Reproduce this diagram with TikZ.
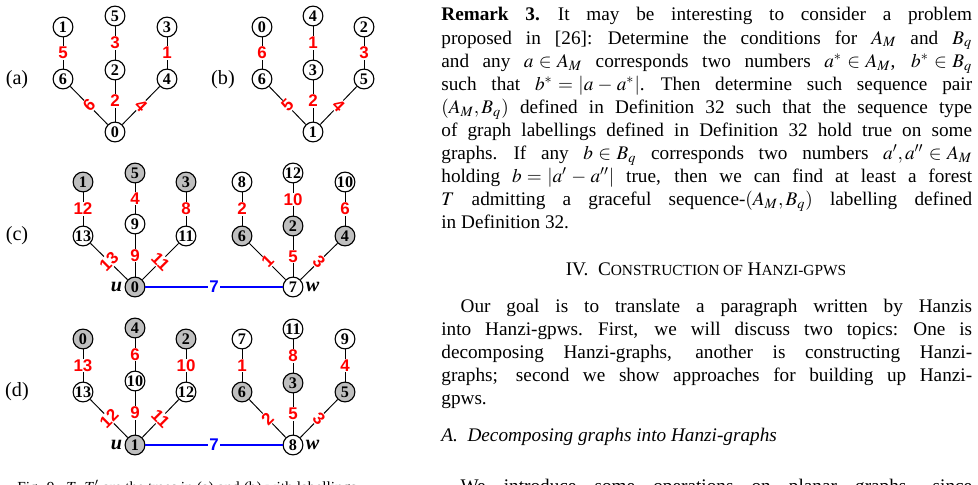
\documentclass[tikz,border=0pt]{standalone}
\usepackage{mathptmx}
\usepackage{fontspec}
\setmainfont{Liberation Serif}
\newfontfamily\lsans{Liberation Sans}
\thickmuskip=5mu
\medmuskip=4mu
\newcommand*{\skp}{\spaceskip=2.5pt plus 6pt minus 0.8pt\relax\xspaceskip=3.2pt plus 6pt minus 0.8pt\relax}
\newcommand*{\jl}[1]{\makebox[276pt][s]{#1}\\}
\begin{document}
\begin{tikzpicture}[x=0.52pt,y=-0.52pt,
  vx/.style={circle,draw,line width=0.6pt,minimum size=10.3pt,inner sep=0pt,font=\fontsize{8.4}{9}\selectfont\bfseries},
  gx/.style={vx,fill=gray!50},
  el/.style={fill=white,inner sep=0.5pt,text=red,font=\fontsize{8.8}{9}\selectfont\lsans\bfseries},
  bl/.style={el,text=blue},
  ed/.style={line width=0.5pt},
  be/.style={blue,line width=1pt},
  tag/.style={font=\fontsize{10.5}{12}\selectfont},
  uw/.style={font=\fontsize{10.5}{12}\selectfont\bfseries\itshape,inner sep=1pt},
  body/.style={inner sep=0pt,font=\fontsize{10}{12}\selectfont}]
\useasboundingbox (0,0) rectangle (978,484);
\begin{scope}
\clip (0,0) rectangle (978,484);
% ---------- (a)
\node[tag] (ta) at (17,80) {(a)};
\node[vx] (a1) at (63,27) {1};
\node[vx] (a5) at (115,16) {5};
\node[vx] (a3) at (167,27) {3};
\node[vx] (a6) at (63,79) {6};
\node[vx] (a2) at (115,70) {2};
\node[vx] (a4) at (167,79) {4};
\node[vx] (a0) at (115,132) {0};
\draw[ed] (a1) -- node[el]{5} (a6);
\draw[ed] (a5) -- node[el]{3} (a2);
\draw[ed] (a3) -- node[el]{1} (a4);
\draw[ed] (a6) -- node[el,rotate=45]{6} (a0);
\draw[ed] (a2) -- node[el]{2} (a0);
\draw[ed] (a4) -- node[el,rotate=-45]{4} (a0);
% ---------- (b)
\node[tag] (tb) at (223,80) {(b)};
\node[vx] (b0) at (262,27) {0};
\node[vx] (b4) at (313,16) {4};
\node[vx] (b2) at (364,27) {2};
\node[vx] (b6) at (262,79) {6};
\node[vx] (b3) at (313,70) {3};
\node[vx] (b5) at (364,79) {5};
\node[vx] (b1) at (313,132) {1};
\draw[ed] (b0) -- node[el]{6} (b6);
\draw[ed] (b4) -- node[el]{1} (b3);
\draw[ed] (b2) -- node[el]{3} (b5);
\draw[ed] (b6) -- node[el,rotate=45]{5} (b1);
\draw[ed] (b3) -- node[el]{2} (b1);
\draw[ed] (b5) -- node[el,rotate=-45]{4} (b1);
% ---------- (c)
\node[tag] (tc) at (17,236) {(c)};
\node[gx] (c1) at (83,182) {1};
\node[gx] (c5) at (135,173) {5};
\node[gx] (c3) at (186,182) {3};
\node[vx] (c8) at (242,182) {8};
\node[vx] (c12) at (293,173) {12};
\node[vx] (c10) at (345,182) {10};
\node[vx] (c13) at (83,236) {13};
\node[vx] (c9) at (135,224) {9};
\node[vx] (c11) at (186,236) {11};
\node[gx] (c6) at (242,236) {6};
\node[gx] (c2) at (293,226) {2};
\node[gx] (c4) at (345,236) {4};
\node[gx] (c0) at (135,287) {0};
\node[vx] (c7) at (293,287) {7};
\draw[ed] (c1) -- node[el]{12} (c13);
\draw[ed] (c5) -- node[el]{4} (c9);
\draw[ed] (c3) -- node[el]{8} (c11);
\draw[ed] (c8) -- node[el]{2} (c6);
\draw[ed] (c12) -- node[el]{10} (c2);
\draw[ed] (c10) -- node[el]{6} (c4);
\draw[ed] (c13) -- node[el,rotate=45]{13} (c0);
\draw[ed] (c9) -- node[el]{9} (c0);
\draw[ed] (c11) -- node[el,rotate=-45]{11} (c0);
\draw[ed] (c6) -- node[el,rotate=45]{1} (c7);
\draw[ed] (c2) -- node[el]{5} (c7);
\draw[ed] (c4) -- node[el,rotate=-45]{3} (c7);
\draw[be] (c0) -- node[bl]{7} (c7);
\node[uw,anchor=east] (cu) at (c0.west) {u};
\node[uw,anchor=west] (cw) at (c7.east) {w};
% ---------- (d)
\node[tag] (td) at (17,392) {(d)};
\node[gx] (d0) at (83,339) {0};
\node[gx] (d4) at (135,328) {4};
\node[gx] (d2) at (186,339) {2};
\node[vx] (d7) at (242,339) {7};
\node[vx] (d11) at (293,329) {11};
\node[vx] (d9) at (345,339) {9};
\node[vx] (d13) at (83,392) {13};
\node[vx] (d10) at (135,381) {10};
\node[vx] (d12) at (186,392) {12};
\node[gx] (d6) at (242,392) {6};
\node[gx] (d3) at (293,383) {3};
\node[gx] (d5) at (345,392) {5};
\node[gx] (d1) at (135,445) {1};
\node[vx] (d8) at (293,445) {8};
\draw[ed] (d0) -- node[el]{13} (d13);
\draw[ed] (d4) -- node[el]{6} (d10);
\draw[ed] (d2) -- node[el]{10} (d12);
\draw[ed] (d7) -- node[el]{1} (d6);
\draw[ed] (d11) -- node[el]{8} (d3);
\draw[ed] (d9) -- node[el]{4} (d5);
\draw[ed] (d13) -- node[el,rotate=45]{12} (d1);
\draw[ed] (d10) -- node[el]{9} (d1);
\draw[ed] (d12) -- node[el,rotate=-45]{11} (d1);
\draw[ed] (d6) -- node[el,rotate=45]{2} (d8);
\draw[ed] (d3) -- node[el]{5} (d8);
\draw[ed] (d5) -- node[el,rotate=-45]{3} (d8);
\draw[be] (d1) -- node[bl]{7} (d8);
\node[uw,anchor=east] (du) at (d1.west) {u};
\node[uw,anchor=west] (dw) at (d8.east) {w};
% ---------- caption (cut off at the bottom edge)
\node[inner sep=0pt,anchor=base west,font=\fontsize{8}{9}\selectfont] (cap) at (17,492) {Fig. 9.\ \ $T$, $T'$ are the trees in (a) and (b) with labellings};
% ---------- right column text
\node[body,anchor=base west,text width=276pt,align=left] (rem) at (441,21) {\skp
\jl{\textbf{Remark 3.} It may be interesting to consider a problem}
\jl{proposed in [26]: Determine the conditions for $A_M$ and $B_q$}
\jl{and any $a\in A_M$ corresponds two numbers $a^*\in A_M$, $b^*\in B_q$}
\jl{such that $b^*=|a-a^*|$. Then determine such sequence pair}
\jl{$(A_M,B_q)$ defined in Definition 32 such that the sequence type}
\jl{of graph labellings defined in Definition 32 hold true on some}
\jl{graphs. If any $b\in B_q$ corresponds two numbers $a',a''\in A_M$}
\jl{holding $b=|a'-a''|$ true, then we can find at least a forest}
\jl{$T$ admitting a graceful sequence-$(A_M,B_q)$ labelling defined}
in Definition 32.};
\node[body,anchor=base] (sec) at (706,275) {IV.\ \ C{\fontsize{8}{9}\selectfont ONSTRUCTION OF} H{\fontsize{8}{9}\selectfont ANZI-GPWS}};
\node[body,anchor=base west,text width=276pt,align=left] (par) at (441,312) {\skp
\jl{\hspace*{10pt}Our goal is to translate a paragraph written by Hanzis}
\jl{into Hanzi-gpws. First, we will discuss two topics: One is}
\jl{decomposing Hanzi-graphs, another is constructing Hanzi-}
\jl{graphs; second we show approaches for building up Hanzi-}
gpws.};
\node[body,anchor=base west] (sub) at (441,441) {\itshape A.\ \ Decomposing graphs into Hanzi-graphs};
\node[body,anchor=base west] (last) at (441,492) {\skp\makebox[276pt][s]{\hspace*{10pt}We introduce some operations on planar graphs, since}};
\end{scope}
\end{tikzpicture}
\end{document}
